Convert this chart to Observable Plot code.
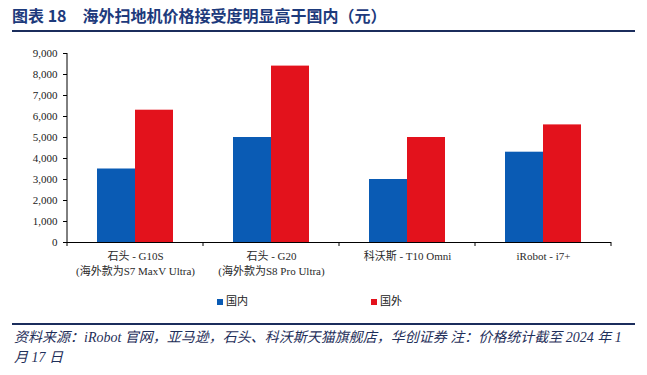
<!DOCTYPE html>
<html>
<head>
<meta charset="utf-8">
<script src="https://cdn.jsdelivr.net/npm/d3@7"></script>
<script src="https://cdn.jsdelivr.net/npm/@observablehq/plot@0.6"></script>
<style>
  html, body { margin: 0; padding: 0; background: #fff; }
  #wrap { width: 647px; position: relative; }
  .title { height: 30px; line-height: 30px; padding-left: 12px; font-family: "Noto Sans CJK SC", sans-serif; font-weight: bold; font-size: 16px; color: #1d3a7c; white-space: nowrap; }
  .title .num { margin-right: 16px; }
  .hr { margin: 0 12px; height: 2px; background: #1b2d5c; }
  #chart { height: 260px; }
  #chart svg { display: block; }
  .legend { position: relative; height: 18px; font-family: "Liberation Serif", "Noto Sans CJK SC", serif; font-size: 11px; color: #222; }
  .legend .item { position: absolute; top: 0; line-height: 18px; white-space: nowrap; }
  .legend .sw { display: inline-block; width: 6px; height: 6px; margin-right: 3px; vertical-align: 0px; }
  .caption { padding: 3px 12px 0 14px; font-family: "Liberation Serif", "Noto Sans CJK SC", serif; font-style: italic; font-size: 14px; line-height: 20px; color: #1f2f5a; white-space: nowrap; }
</style>
</head>
<body>
<div id="wrap">
  <div class="title"><span class="num">图表 18</span>海外扫地机价格接受度明显高于国内（元）</div>
  <div class="hr"></div>
  <div id="chart"></div>
  <div class="legend" id="legend"></div>
  <div class="hr" style="margin-top:13px"></div>
  <div class="caption">资料来源：iRobot 官网，亚马逊，石头、科沃斯天猫旗舰店，华创证券 注：价格统计截至 2024 年 1<br>月 17 日</div>
</div>
<script>
const categories = ["石头 - G10S", "石头 - G20", "科沃斯 - T10 Omni", "iRobot - i7+"];
const subLabels = ["(海外款为S7 MaxV Ultra)", "(海外款为S8 Pro Ultra)", "", ""];
const series = ["国内", "国外"];
const domestic = [3500, 5000, 3000, 4300];
const overseas = [6300, 8400, 5000, 5600];
const colors = ["#0a5bb4", "#e3121c"];
const yTicks = [0, 1000, 2000, 3000, 4000, 5000, 6000, 7000, 8000, 9000];
const legendLeft = [217, 371];

const data = categories.flatMap((c, i) => [
  {category: c, series: series[0], value: domestic[i]},
  {category: c, series: series[1], value: overseas[i]}
]);
const labelOf = new Map(categories.map((c, i) => [c, subLabels[i] ? c + "\n" + subLabels[i] : c]));

const plot = Plot.plot({
  width: 647,
  height: 260,
  marginTop: 21,
  marginLeft: 67,
  marginRight: 36,
  marginBottom: 50,
  style: {fontFamily: "'Liberation Serif', 'Noto Sans CJK SC', serif", fontSize: "11px", color: "#1a1a1a", background: "#fff"},
  fx: {domain: categories, padding: 0, label: null},
  x: {domain: series, paddingInner: 0, paddingOuter: 0.766, axis: null},
  y: {domain: [0, 9000], label: null},
  color: {domain: series, range: colors},
  marks: [
    Plot.barY(data, {fx: "category", x: "series", y: "value", fill: "series"}),
    Plot.ruleY([0], {stroke: "#000", strokeWidth: 1}),
    Plot.axisY({ticks: yTicks, tickFormat: d3.format(","), tickSize: 4, tickPadding: 6, label: null, stroke: "#000"}),
    Plot.axisFx({anchor: "bottom", tickSize: 0, tickPadding: 7, tickFormat: d => labelOf.get(d), lineHeight: 1.36, label: null, fill: "#2a2a2a"})
  ]
});

// axis line and category boundary ticks from the library scales
const fxS = plot.scale("fx");
const yS = plot.scale("y");
const bounds = categories.map(c => fxS.apply(c)).concat([fxS.apply(categories[categories.length - 1]) + fxS.bandwidth]);
const g = d3.select(plot).append("g").attr("stroke", "#000").attr("stroke-width", 1);
const y0 = yS.apply(0), yTop = yS.apply(yTicks[yTicks.length - 1]);
g.append("line").attr("x1", bounds[0]).attr("x2", bounds[0]).attr("y1", yTop).attr("y2", y0);
g.selectAll("line.bt").data(bounds).join("line").attr("class", "bt")
  .attr("x1", d => d).attr("x2", d => d).attr("y1", y0).attr("y2", y0 + 4);

document.getElementById("chart").appendChild(plot);

const legend = document.getElementById("legend");
series.forEach((s, i) => {
  const item = document.createElement("div");
  item.className = "item";
  item.style.left = legendLeft[i] + "px";
  item.innerHTML = `<span class="sw" style="background:${colors[i]}"></span>${s}`;
  legend.appendChild(item);
});
</script>
</body>
</html>
